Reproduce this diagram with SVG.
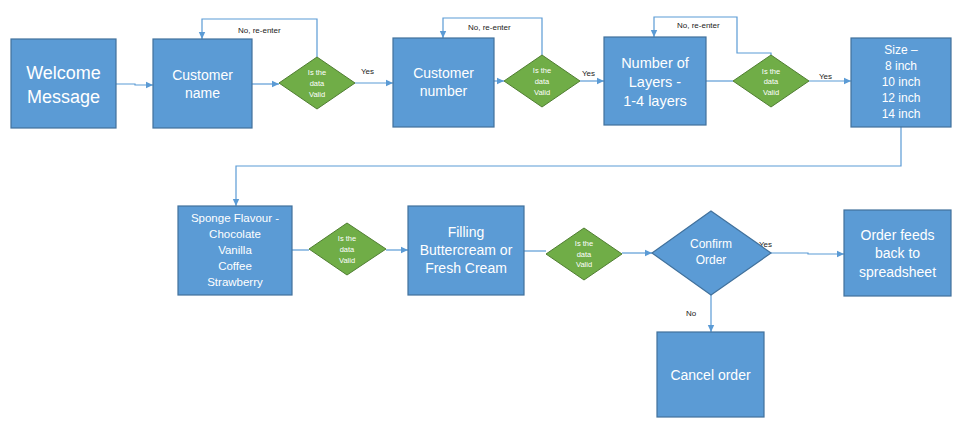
<svg xmlns="http://www.w3.org/2000/svg" width="967" height="436" viewBox="0 0 967 436">
<defs>
<marker id="ah" markerUnits="userSpaceOnUse" markerWidth="8" markerHeight="8" refX="7" refY="4" orient="auto">
<path d="M0,0.8 L7,4 L0,7.2 Z" fill="#5B9BD5"/>
</marker>
<style>
.box{fill:#5B9BD5;stroke:#41719C;stroke-width:1.2}
.dia{fill:#70AD47;stroke:#507E32;stroke-width:1}
.t{fill:#fff;font-family:"Liberation Sans",Arial,sans-serif;text-anchor:middle;dominant-baseline:central}
.dt{fill:#fff;font-family:"Liberation Sans",Arial,sans-serif;font-size:7.5px;text-anchor:middle;dominant-baseline:central}
.lbl{fill:#222;font-family:"Liberation Sans",Arial,sans-serif;font-size:8px;dominant-baseline:central}
.c{fill:none;stroke:#5B9BD5;stroke-width:1.2;marker-end:url(#ah)}
.cn{fill:none;stroke:#5B9BD5;stroke-width:1.2}
</style>
</defs>
<rect width="967" height="436" fill="#fff"/>
<g id="connectors">
<path class="c" d="M116,84 H135 V85 H153"/>
<path class="c" d="M252,84 H279"/>
<path class="c" d="M317,57 V19 H202 V39"/>
<path class="c" d="M355,83 H393"/>
<path class="c" d="M494,81 H504"/>
<path class="c" d="M542,55 V18 H443 V38"/>
<path class="c" d="M580,81 H604"/>
<path class="cn" d="M706,81 H733"/>
<path class="c" d="M771,55 V53 H737 V17 H654 V37"/>
<path class="c" d="M809,81 H851"/>
<path class="c" d="M901,127 V166 H236 V206"/>
<path class="cn" d="M292,250 H309"/>
<path class="c" d="M386,250 H408"/>
<path class="cn" d="M524,251 H546"/>
<path class="c" d="M622,253 H652"/>
<path class="c" d="M771,253 H808 V254 H844"/>
<path class="c" d="M711,294 V332"/>
<text class="lbl" x="238" y="30">No, re-enter</text>
<text class="lbl" x="468" y="27">No, re-enter</text>
<text class="lbl" x="677" y="25">No, re-enter</text>
<text class="lbl" x="361" y="71">Yes</text>
<text class="lbl" x="582" y="73">Yes</text>
<text class="lbl" x="819" y="76">Yes</text>
<text class="lbl" x="759" y="244">Yes</text>
<text class="lbl" x="686" y="313">No</text>
</g>
<g id="welcome">
<rect class="box" x="11" y="39" width="105" height="89"/>
<text class="t" font-size="18" x="63.5" y="73">Welcome</text>
<text class="t" font-size="18" x="63.5" y="97">Message</text>
</g>
<g id="customer-name">
<rect class="box" x="153" y="39" width="99" height="89"/>
<text class="t" font-size="14" x="202.5" y="75">Customer</text>
<text class="t" font-size="14" x="202.5" y="93">name</text>
</g>
<g id="valid1">
<polygon class="dia" points="317,57 355,83 317,109 279,83"/>
<text class="dt" x="317" y="72">Is the</text>
<text class="dt" x="317" y="83">data</text>
<text class="dt" x="317" y="94">Valid</text>
</g>
<g id="customer-number">
<rect class="box" x="393" y="38" width="101" height="89"/>
<text class="t" font-size="14" x="443.5" y="73">Customer</text>
<text class="t" font-size="14" x="443.5" y="91">number</text>
</g>
<g id="valid2">
<polygon class="dia" points="542,55 580,81 542,107 504,81"/>
<text class="dt" x="542" y="70">Is the</text>
<text class="dt" x="542" y="81">data</text>
<text class="dt" x="542" y="92">Valid</text>
</g>
<g id="layers">
<rect class="box" x="604" y="37" width="102" height="88"/>
<text class="t" font-size="14.5" x="655" y="63">Number of</text>
<text class="t" font-size="14.5" x="655" y="82">Layers -</text>
<text class="t" font-size="14.5" x="655" y="101">1-4 layers</text>
</g>
<g id="valid3">
<polygon class="dia" points="771,55 809,81 771,107 733,81"/>
<text class="dt" x="771" y="71">Is the</text>
<text class="dt" x="771" y="81">data</text>
<text class="dt" x="771" y="92">Valid</text>
</g>
<g id="size">
<rect class="box" x="851" y="38" width="100" height="89"/>
<text class="t" font-size="12" x="901" y="50">Size –</text>
<text class="t" font-size="12" x="901" y="66">8 inch</text>
<text class="t" font-size="12" x="901" y="82">10 inch</text>
<text class="t" font-size="12" x="901" y="98">12 inch</text>
<text class="t" font-size="12" x="901" y="114">14 inch</text>
</g>
<g id="sponge">
<rect class="box" x="178" y="206" width="114" height="89"/>
<text class="t" font-size="11.5" x="235" y="218">Sponge Flavour -</text>
<text class="t" font-size="11.5" x="235" y="234">Chocolate</text>
<text class="t" font-size="11.5" x="235" y="250">Vanilla</text>
<text class="t" font-size="11.5" x="235" y="266">Coffee</text>
<text class="t" font-size="11.5" x="235" y="282">Strawberry</text>
</g>
<g id="valid4">
<polygon class="dia" points="347,223 386,249 347,275 309,249"/>
<text class="dt" x="347" y="238">Is the</text>
<text class="dt" x="347" y="249">data</text>
<text class="dt" x="347" y="260">Valid</text>
</g>
<g id="filling">
<rect class="box" x="408" y="206" width="116" height="89"/>
<text class="t" font-size="14" x="466" y="232">Filling</text>
<text class="t" font-size="14" x="466" y="250">Buttercream or</text>
<text class="t" font-size="14" x="466" y="268">Fresh Cream</text>
</g>
<g id="valid5">
<polygon class="dia" points="584,228 622,254 584,280 546,254"/>
<text class="dt" x="584" y="243">Is the</text>
<text class="dt" x="584" y="254">data</text>
<text class="dt" x="584" y="264">Valid</text>
</g>
<g id="confirm">
<polygon class="box" points="711,211 771,253 711,295 652,253"/>
<text class="t" font-size="12" x="711" y="244">Confirm</text>
<text class="t" font-size="12" x="711" y="260">Order</text>
</g>
<g id="order-feeds">
<rect class="box" x="844" y="210" width="107" height="86"/>
<text class="t" font-size="14" x="897.5" y="235">Order feeds</text>
<text class="t" font-size="14" x="897.5" y="253">back to</text>
<text class="t" font-size="14" x="897.5" y="272">spreadsheet</text>
</g>
<g id="cancel">
<rect class="box" x="657" y="332" width="107" height="85"/>
<text class="t" font-size="14" x="710.5" y="375">Cancel order</text>
</g>
</svg>
